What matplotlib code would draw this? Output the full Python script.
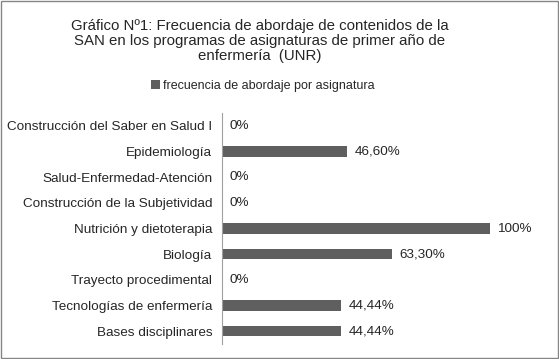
# Gráfico Nº1 - frecuencia de abordaje de contenidos SAN
import matplotlib.pyplot as plt
import numpy as np

plt.rcParams['font.family'] = ['Liberation Sans', 'DejaVu Sans']

asignaturas = ["Construcción del Saber en Salud I", "Epidemiología",
               "Salud-Enfermedad-Atención", "Construcción de la Subjetividad",
               "Nutrición y dietoterapia", "Biología", "Trayecto procedimental",
               "Tecnologías de enfermería", "Bases disciplinares"]
frecuencia = [0, 0.466, 0, 0, 1.0, 0.633, 0, 0.4444, 0.4444]
etiquetas = ["0%", "46,60%", "0%", "0%", "100%", "63,30%", "0%", "44,44%", "44,44%"]

color_barra = '#5f5f5f'
texto = '#262626'

fig = plt.figure(figsize=(5.59, 3.59), dpi=100)
ax = fig.add_axes([222/559, 1 - 344/359, (490-222)/559, (344-113)/359])

y = np.arange(len(asignaturas))
barras = ax.barh(y, frecuencia, height=0.4, color=color_barra,
                 label='frecuencia de abordaje por asignatura')
ax.set_ylim(len(asignaturas) - 0.5, -0.5)
ax.set_xlim(0, 1.0)
ax.set_yticks(y)
ax.set_yticklabels(asignaturas, fontsize=9.7, color=texto)
ax.tick_params(axis='y', length=0, pad=7)
ax.set_xticks([])

for s in ['top', 'right', 'bottom']:
    ax.spines[s].set_visible(False)
ax.spines['left'].set_color('#a0a0a0')

for b, e in zip(barras, etiquetas):
    ax.text(b.get_width() + 0.028, b.get_y() + b.get_height()/2, e,
            va='center', ha='left', fontsize=9.7, color=texto)

fig.text(260/559, 1 - 41/359,
         "Gráfico Nº1: Frecuencia de abordaje de contenidos de la\n"
         "SAN en los programas de asignaturas de primer año de\n"
         "enfermería  (UNR)",
         ha='center', va='center', fontsize=10.8, color=texto, linespacing=1.12)

fig.legend(loc='center', bbox_to_anchor=(263/559, 1 - 86/359), frameon=False,
           fontsize=9.0, handlelength=0.7, handleheight=0.7, handletextpad=0.3,
           labelcolor=texto)

# borde exterior
fig.patches.append(plt.Rectangle((0.001, 0.002), 0.997, 0.996, transform=fig.transFigure,
                                 fill=False, edgecolor='#868686', linewidth=1))

fig.savefig('out.png', dpi=100)
